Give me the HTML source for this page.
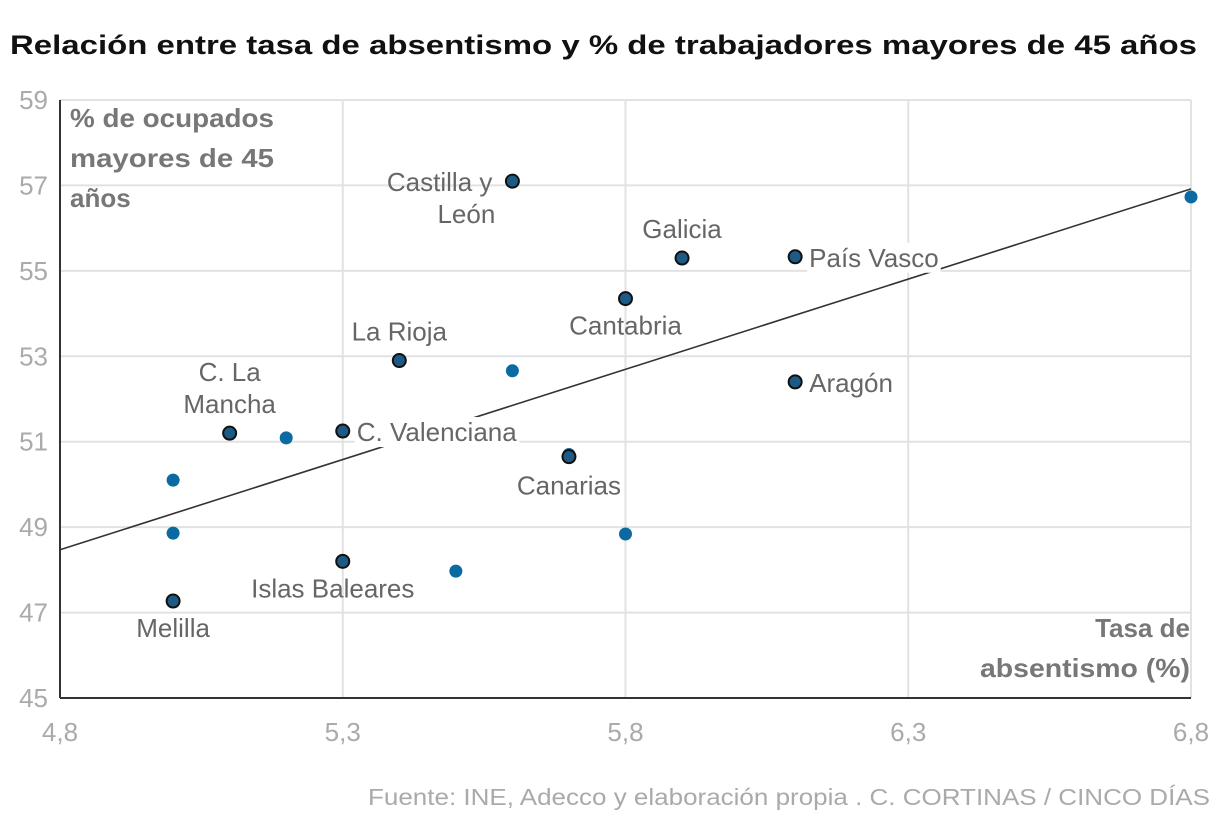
<!DOCTYPE html>
<html><head><meta charset="utf-8"><style>
body{margin:0;background:#fff;}
svg{display:block;font-family:"Liberation Sans",sans-serif;}
</style></head><body>
<svg id="chart" width="1220" height="824" viewBox="0 0 1220 824">
<text x="10" y="54" font-size="27" font-weight="bold" fill="#111" textLength="1187" lengthAdjust="spacingAndGlyphs">Relación entre tasa de absentismo y % de trabajadores mayores de 45 años</text>
<g id="grid"></g><g id="axes"></g><g id="marks"></g><g id="labels"></g>
<text font-size="26" font-weight="bold" fill="#777"><tspan x="70" y="127" textLength="204" lengthAdjust="spacingAndGlyphs">% de ocupados</tspan><tspan x="70" y="167" textLength="204" lengthAdjust="spacingAndGlyphs">mayores de 45</tspan><tspan x="70" y="207">años</tspan></text>
<text font-size="26" font-weight="bold" fill="#777" text-anchor="end"><tspan x="1190" y="637">Tasa de</tspan><tspan x="1190" y="677" textLength="210" lengthAdjust="spacingAndGlyphs">absentismo (%)</tspan></text>
<text x="1210" y="805" font-size="23" fill="#aaa" text-anchor="end" textLength="842" lengthAdjust="spacingAndGlyphs">Fuente: INE, Adecco y elaboración propia . C. CORTINAS / CINCO DÍAS</text>
</svg>
<script>
const xTicks=[4.8,5.3,5.8,6.3,6.8];
const xTickLabels=["4,8","5,3","5,8","6,3","6,8"];
const yTicks=[45,47,49,51,53,55,57,59];
const labeledNames=["Castilla y León","Galicia","País Vasco","Cantabria","Aragón","La Rioja","C. La Mancha","C. Valenciana","Canarias","Islas Baleares","Melilla"];
const labeledX=[5.6,5.9,6.1,5.8,6.1,5.4,5.1,5.3,5.7,5.3,5.0];
const labeledY=[57.1,55.3,55.33,54.35,52.4,52.9,51.2,51.25,50.65,48.2,47.27];
const otherX=[6.8,5.6,5.2,5.0,5.0,5.8,5.5,5.7];
const otherY=[56.73,52.66,51.09,50.1,48.86,48.84,47.97,50.7];
const trendX=[4.8,6.8];
const trendY=[48.47,56.92];
const NS="http://www.w3.org/2000/svg";
const X0=60,X1=1191,Y0=698,Y1=100;
const sx=v=>X0+(v-4.8)/(6.8-4.8)*(X1-X0);
const sy=v=>Y0-(v-45)/(59-45)*(Y0-Y1);
function mk(tag,attrs,parent){const e=document.createElementNS(NS,tag);for(const k in attrs)e.setAttribute(k,attrs[k]);document.getElementById(parent).appendChild(e);return e;}
yTicks.forEach(t=>{
  if(t>45){const l=mk('line',{x1:X0,x2:X1,y1:sy(t),y2:sy(t),stroke:'#e2e2e2','stroke-width':2},'grid');
  
  }
  const tx=mk('text',{x:48,y:sy(t)+9,'font-size':26,fill:'#aaa','text-anchor':'end'},'axes');tx.textContent=t;
  
  
});
xTicks.forEach((t,i)=>{
  if(t>4.8){const l=mk('line',{x1:sx(t),x2:sx(t),y1:Y1,y2:Y0,stroke:'#e2e2e2','stroke-width':2},'grid');
  
  }
  const tx=mk('text',{x:sx(t),y:741,'font-size':26,fill:'#aaa','text-anchor':'middle'},'axes');tx.textContent=xTickLabels[i];
  
  
});
const ya=mk('line',{x1:X0,x2:X0,y1:Y1,y2:Y0,stroke:'#333','stroke-width':2},'axes');


const xa=mk('line',{x1:X0,x2:X1,y1:Y0,y2:Y0,stroke:'#333','stroke-width':2},'axes');


const tl=mk('line',{x1:sx(trendX[0]),y1:sy(trendY[0]),x2:sx(trendX[1]),y2:sy(trendY[1]),stroke:'#333','stroke-width':1.6},'marks');


otherX.forEach((v,i)=>{
  const c=mk('circle',{cx:sx(v),cy:sy(otherY[i]),r:6.5,fill:'#0b6aa2'},'marks');
  
  
});
const off=[[-20,10,'end'],[0,-20,'middle'],[14,10,'start'],[0,36,'middle'],[14,10,'start'],[0,-20,'middle'],[0,-52,'middle'],[14,10,'start'],[0,38,'middle'],[-10,36,'middle'],[0,36,'middle']];
labeledX.forEach((v,i)=>{
  const cx=sx(v),cy=sy(labeledY[i]);
  const c=mk('circle',{cx:cx,cy:cy,r:6.5,fill:'#1d5a85',stroke:'#111','stroke-width':2},'marks');
  
  
  const o=off[i];
  const t=mk('text',{x:cx+o[0],y:cy+o[1],'font-size':26,fill:'#666','text-anchor':o[2]},'labels');
  
  
  const name=labeledNames[i];
  if(name==="Castilla y León"){t.innerHTML='<tspan x="'+(cx-20)+'">Castilla y</tspan><tspan x="'+(cx-46)+'" dy="32" text-anchor="middle">León</tspan>';t.setAttribute('y',cy+10);}
  else if(name==="C. La Mancha"){t.innerHTML='<tspan x="'+cx+'">C. La</tspan><tspan x="'+cx+'" dy="32">Mancha</tspan>';}
  else t.textContent=name;
  if(name==="País Vasco"||name==="C. Valenciana"){const bb=t.getBBox();const r=mk('rect',{x:bb.x-2,y:bb.y,width:bb.width+4,height:bb.height,fill:'#fff'},'labels');document.getElementById('labels').appendChild(t);}
});
</script>
</body></html>
